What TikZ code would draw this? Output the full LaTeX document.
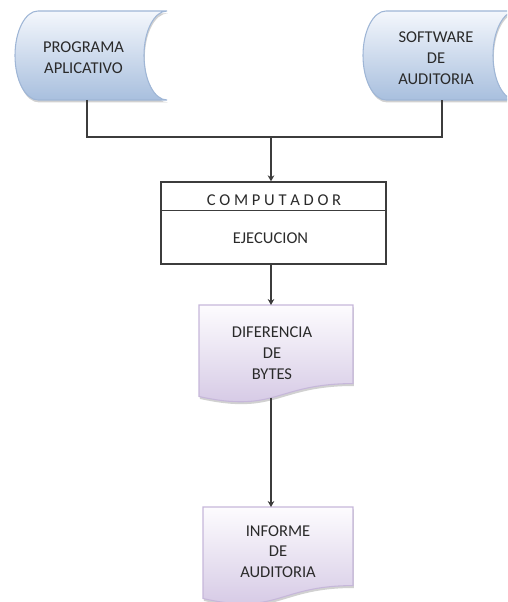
\documentclass[tikz,border=0pt]{standalone}
\usepackage{fontspec}
\setmainfont{Carlito}
\usetikzlibrary{arrows.meta,shadows}

\definecolor{linegray}{HTML}{3C3C3C}
\definecolor{textgray}{HTML}{2A2A2A}
\definecolor{storetop}{HTML}{F4F7FC}
\definecolor{storebot}{HTML}{A8BFDE}
\definecolor{storeedge}{HTML}{9FB6D6}
\definecolor{doctop}{HTML}{FDFCFE}
\definecolor{docbot}{HTML}{D2C5E3}
\definecolor{docedge}{HTML}{C6B7DA}

\begin{document}
\begin{tikzpicture}[x=0.75pt,y=-0.75pt,
  softshadow/.style={drop shadow={shadow xshift=0.6pt,shadow yshift=-1.8pt,opacity=0.3,fill=black!60}},
  storage/.style={draw=storeedge,line width=0.8pt,top color=storetop,bottom color=storebot,softshadow},
  docshape/.style={draw=docedge,line width=0.8pt,top color=doctop,bottom color=docbot,softshadow},
  procbox/.style={draw=linegray,line width=1pt,rectangle,inner sep=0pt,minimum width=168.75pt,minimum height=61.5pt},
  conn/.style={draw=linegray,line width=1pt},
  arrowconn/.style={conn,-{Stealth[length=4.5pt,width=5pt]}},
  lbl/.style={font=\fontsize{12.4}{15.4}\selectfont,text=textgray,align=center,inner sep=0pt,anchor=north}]
\useasboundingbox (0,0) rectangle (507,602);
\clip (0,0) rectangle (507,602);

% stored-data shapes (convex left side, concave right side)
\path[storage] (38,11) -- (167,11)
  .. controls (154.3,11) and (144,30.9) .. (144,55.5)
  .. controls (144,80.1) and (154.3,100) .. (167,100) -- (38,100)
  .. controls (25.3,100) and (15,80.1) .. (15,55.5)
  .. controls (15,30.9) and (25.3,11) .. (38,11) -- cycle;
\path[storage] (386,11) -- (516,11)
  .. controls (503.3,11) and (493,30.9) .. (493,55.5)
  .. controls (493,80.1) and (503.3,100) .. (516,100) -- (386,100)
  .. controls (373.3,100) and (363,80.1) .. (363,55.5)
  .. controls (363,30.9) and (373.3,11) .. (386,11) -- cycle;

% document shapes with wavy bottom edge
\path[docshape] (199,305) -- (353,305) -- (353,383.6)
  .. controls (276,383.6) and (276,413.6) .. (199,396.5) -- cycle;
\path[docshape] (203,507) -- (353,507) -- (353,585.6)
  .. controls (278,585.6) and (278,615.6) .. (203,598.5) -- cycle;

% process box
\node[procbox] (comp) at (273.5,223) {};
\draw[conn] ([yshift=-21.75pt]comp.north west) -- ([yshift=-21.75pt]comp.north east);

% texts
\node[lbl] (prog) at (83.5,42) {PROGRAMA\\APLICATIVO};
\node[lbl] (soft) at (436,32) {SOFTWARE\\DE\\AUDITORIA};
\node[lbl] (compt) at (274,195) {C O M P U T A D O R};
\node[lbl] (ejec) at (270.5,233) {EJECUCION};
\node[lbl] (dif) at (272,327) {DIFERENCIA\\DE\\BYTES};
\node[lbl] (inf) at (278,525) {INFORME\\DE\\AUDITORIA};

% connector end points
\coordinate (prog-out) at (87,100);
\coordinate (soft-out) at (442,100);
\coordinate (join) at (271,137);
\coordinate (dif-top) at (271,305);
\coordinate (dif-bot) at (271,397.5);
\coordinate (inf-top) at (271,507);

% connectors
\draw[conn] (prog-out) |- (join) -| (soft-out);
\draw[arrowconn] (join) -- (join |- comp.north);
\draw[arrowconn] (join |- comp.south) -- (dif-top);
\draw[arrowconn] (dif-bot) -- (inf-top);
\end{tikzpicture}
\end{document}
